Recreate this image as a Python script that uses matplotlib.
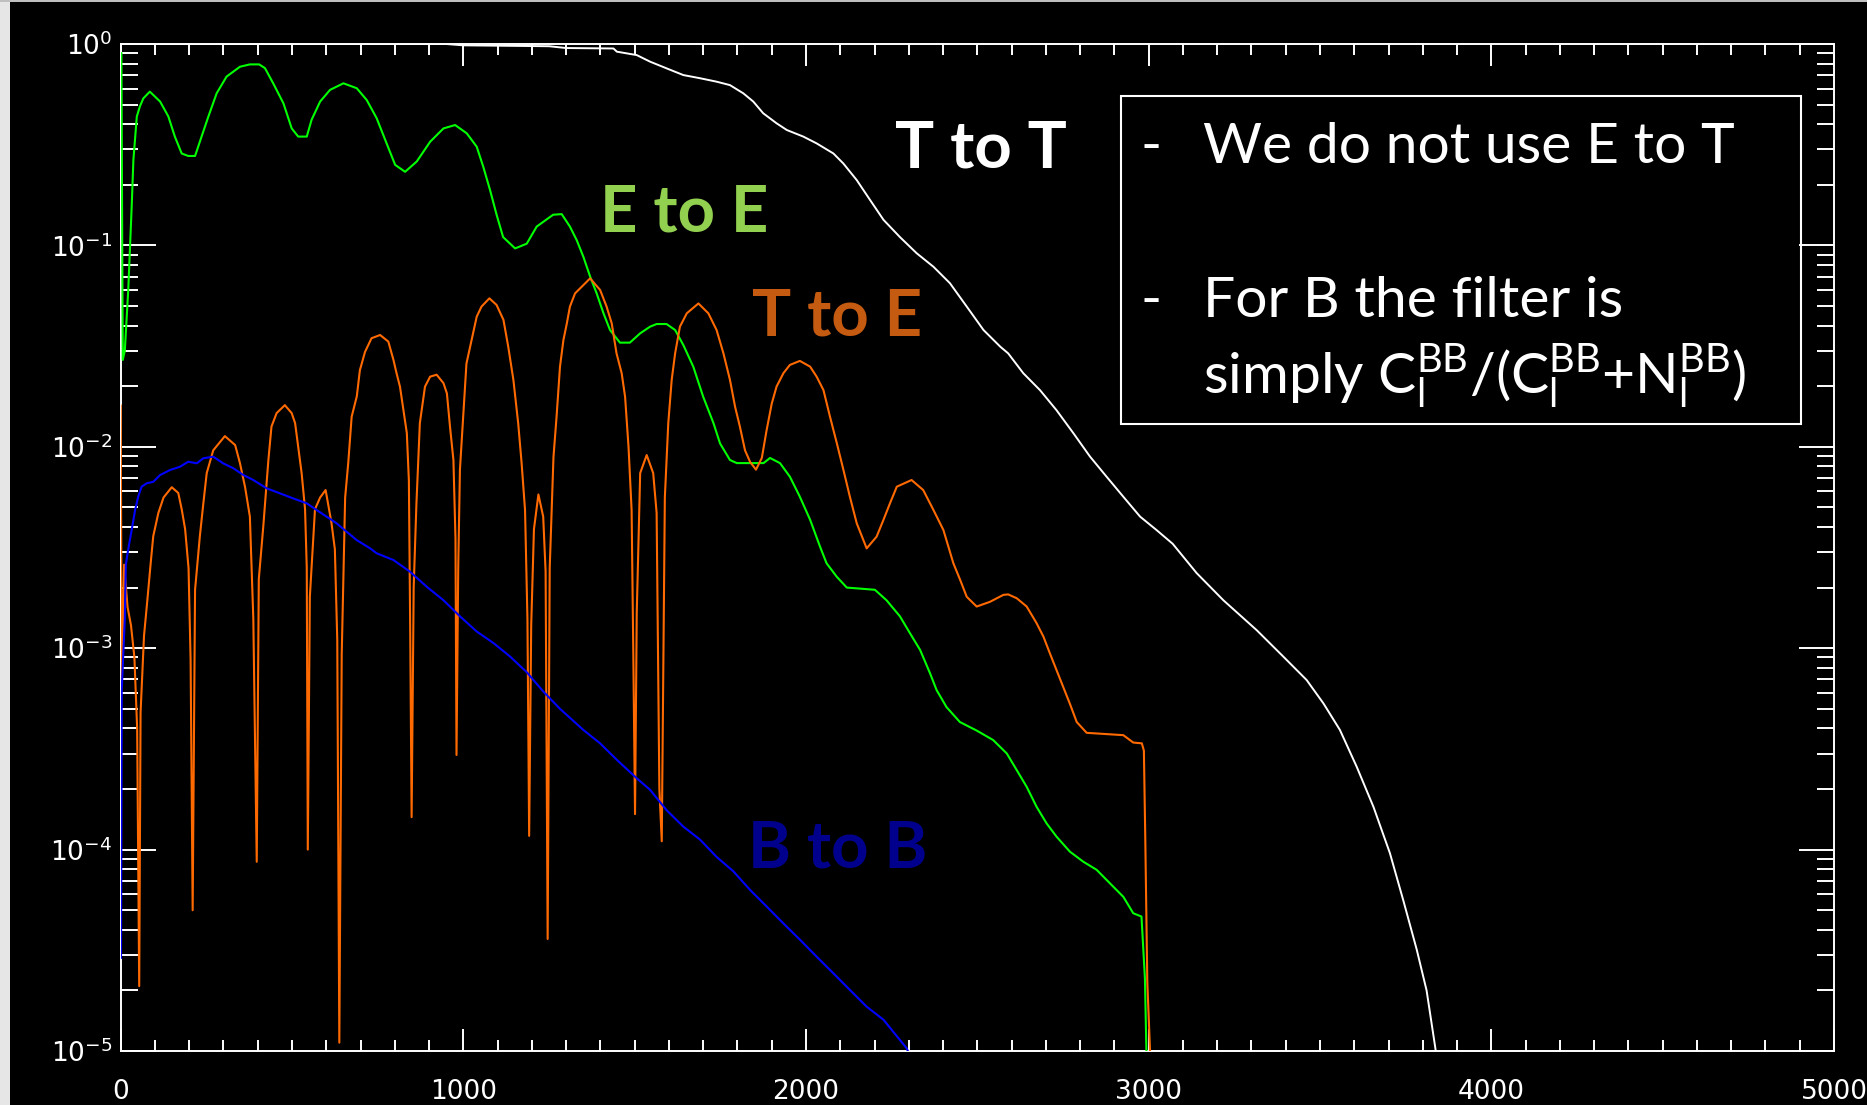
# -*- coding: utf-8 -*-
'''
Wiener filter curves (T to T, E to E, T to E, B to B) on a log scale
'''
import matplotlib
matplotlib.use('Agg')
import matplotlib.pyplot as plt
from matplotlib.patches import Rectangle
from matplotlib.ticker import MultipleLocator, LogLocator, NullFormatter

plt.rcParams['font.family'] = ['DejaVu Sans']
plt.rcParams['mathtext.default'] = 'regular'  # math text in the same font as the text

W, H = 1867, 1105  # output size in pixels

# T to T (white)
ell_tt = [0, 950, 1000, 1250, 1300, 1438, 1448, 1506, 1545, 1593, 1642, 1691, 1739, 1778,
          1817, 1846, 1875, 1914, 1944, 1992, 2031, 2080, 2109, 2148, 2187, 2226, 2274,
          2323, 2372, 2420, 2469, 2518, 2567, 2590, 2634, 2683, 2731, 2780, 2829, 2877,
          2926, 2975, 3023, 3070, 3140, 3218, 3315, 3393, 3461, 3510, 3558, 3607, 3656,
          3704, 3743, 3782, 3811, 3836, 3850]
filt_tt = [1.0, 1.0, 0.985, 0.975, 0.955, 0.95, 0.916, 0.881, 0.817, 0.757, 0.701, 0.676,
           0.65, 0.625, 0.569, 0.518, 0.453, 0.404, 0.374, 0.347, 0.321, 0.286, 0.255,
           0.211, 0.168, 0.134, 0.11, 0.0914, 0.0783, 0.0649, 0.0497, 0.038, 0.0314,
           0.0291, 0.0232, 0.0191, 0.0152, 0.0117, 0.00893, 0.00711, 0.00565, 0.0045,
           0.00386, 0.0033, 0.00236, 0.00173, 0.00123, 0.000908, 0.000695, 0.000532,
           0.000393, 0.000258, 0.000163, 9.6e-5, 5.6e-5, 3.2e-5, 2.0e-5, 1.05e-5, 7e-6]

# E to E (green)
ell_ee = [2, 6, 12, 22, 32, 37, 47, 56, 66, 85, 115, 139, 158, 178, 197, 217, 236, 256, 280,
          309, 348, 377, 404, 421, 445, 475, 499, 518, 543, 557, 582, 611, 650, 689, 718,
          747, 776, 801, 830, 864, 903, 942, 976, 1010, 1039, 1058, 1078, 1097, 1116, 1151,
          1185, 1214, 1262, 1287, 1311, 1331, 1350, 1370, 1389, 1409, 1428, 1457, 1486,
          1516, 1545, 1564, 1593, 1618, 1642, 1671, 1700, 1730, 1749, 1778, 1798, 1876,
          1895, 1924, 1953, 1982, 2012, 2041, 2060, 2090, 2119, 2201, 2235, 2274, 2303,
          2333, 2362, 2381, 2410, 2449, 2498, 2546, 2586, 2615, 2644, 2673, 2702, 2731,
          2770, 2809, 2848, 2887, 2926, 2955, 2979, 2989, 2997]
filt_ee = [0.9, 0.027, 0.03, 0.06, 0.155, 0.265, 0.436, 0.49, 0.537, 0.58, 0.518, 0.437,
           0.347, 0.286, 0.278, 0.278, 0.347, 0.437, 0.569, 0.689, 0.771, 0.792, 0.792,
           0.759, 0.638, 0.507, 0.381, 0.347, 0.347, 0.42, 0.518, 0.592, 0.638, 0.603,
           0.527, 0.428, 0.321, 0.251, 0.232, 0.261, 0.327, 0.381, 0.396, 0.36, 0.309,
           0.246, 0.188, 0.142, 0.11, 0.0966, 0.102, 0.124, 0.142, 0.143, 0.124, 0.106,
           0.088, 0.07, 0.0578, 0.046, 0.038, 0.0329, 0.0329, 0.0366, 0.0395, 0.0407,
           0.0407, 0.038, 0.032, 0.025, 0.0177, 0.0131, 0.0104, 0.0086, 0.0083, 0.0083,
           0.0088, 0.0083, 0.0071, 0.00565, 0.00434, 0.00319, 0.00264, 0.00226, 0.002,
           0.00195, 0.00173, 0.00144, 0.00119, 0.00098, 0.00075, 0.00062, 0.00051,
           0.00043, 0.00039, 0.00035, 0.0003, 0.000248, 0.000205, 0.000163, 0.000135,
           0.000116, 9.77e-5, 8.71e-5, 7.94e-5, 6.8e-5, 5.83e-5, 4.83e-5, 4.65e-5, 2.3e-5,
           5e-6]

# T to E (orange)
ell_te = [0, 3, 10, 20, 30, 40, 48, 54, 58, 68, 78, 88, 95, 110, 125, 149, 168, 178, 188,
          198, 204, 210, 217, 231, 241, 251, 270, 304, 334, 348, 363, 377, 387, 397, 403,
          416, 431, 440, 455, 479, 499, 509, 518, 528, 538, 543, 546, 552, 567, 582, 598,
          615, 625, 632, 638, 645, 655, 664, 674, 689, 698, 713, 732, 757, 781, 796, 805,
          815, 825, 835, 841, 845, 849, 855, 863, 873, 888, 903, 922, 942, 952, 961, 971,
          977, 980, 985, 990, 1000, 1009, 1024, 1039, 1053, 1076, 1097, 1117, 1131, 1146,
          1160, 1170, 1180, 1187, 1192, 1198, 1206, 1219, 1233, 1240, 1246, 1252, 1263,
          1272, 1282, 1292, 1302, 1311, 1326, 1370, 1399, 1418, 1433, 1447, 1462, 1472,
          1482, 1491, 1496, 1501, 1506, 1516, 1535, 1554, 1564, 1572, 1579, 1588, 1598,
          1608, 1618, 1632, 1652, 1686, 1715, 1739, 1759, 1778, 1793, 1807, 1822, 1837,
          1854, 1871, 1885, 1900, 1914, 1934, 1953, 1982, 2012, 2031, 2051, 2070, 2090,
          2109, 2128, 2148, 2177, 2206, 2226, 2245, 2265, 2308, 2342, 2372, 2401, 2430,
          2450, 2469, 2498, 2537, 2576, 2590, 2615, 2644, 2673, 2693, 2712, 2731, 2751,
          2770, 2790, 2819, 2926, 2955, 2980, 2986, 2990, 2996, 3004, 3016]
filt_te = [0.016, 6.5e-4, 2.6e-3, 1.6e-3, 1.3e-3, 9e-4, 4e-4, 2.1e-5, 4.8e-4, 1.15e-3,
           1.75e-3, 2.7e-3, 3.6e-3, 4.7e-3, 5.6e-3, 6.3e-3, 5.9e-3, 4.9e-3, 3.9e-3, 2.5e-3,
           8.7e-4, 5e-5, 1.95e-3, 3.6e-3, 5.2e-3, 7.4e-3, 9.6e-3, 0.0113, 0.0102, 8.3e-3,
           6.3e-3, 4.5e-3, 1.4e-3, 8.7e-5, 2.2e-3, 4.0e-3, 8.6e-3, 0.0126, 0.0147, 0.0161,
           0.0147, 0.0131, 0.01, 7.4e-3, 4.9e-3, 2.5e-3, 1.0e-4, 1.8e-3, 4.9e-3, 5.6e-3,
           6.1e-3, 4.2e-3, 3.1e-3, 1.1e-3, 1.1e-5, 9.3e-4, 5.6e-3, 8.3e-3, 0.0141, 0.0178,
           0.024, 0.0296, 0.0346, 0.0359, 0.0333, 0.027, 0.0232, 0.0199, 0.0152, 0.0117,
           6.8e-3, 1.15e-3, 1.45e-4, 2e-3, 5.2e-3, 0.0131, 0.0199, 0.0223, 0.0228, 0.0207,
           0.0184, 0.0126, 8.6e-3, 3.5e-3, 2.95e-4, 2.5e-3, 7.7e-3, 0.0147, 0.0259, 0.0339,
           0.0443, 0.0497, 0.0546, 0.0506, 0.0427, 0.0314, 0.0215, 0.0131, 8.3e-3, 4.85e-3,
           1.4e-3, 1.17e-4, 1.3e-3, 3.9e-3, 5.8e-3, 4.5e-3, 2.4e-3, 3.6e-5, 2.5e-3, 8.9e-3,
           0.0141, 0.025, 0.0339, 0.041, 0.0497, 0.0578, 0.0686, 0.0601, 0.0497, 0.041,
           0.0291, 0.0232, 0.0177, 0.01, 4.85e-3, 9.3e-4, 1.5e-4, 1.5e-3, 7.4e-3, 9.1e-3,
           7.4e-3, 4.7e-3, 2e-4, 1.1e-4, 5.6e-3, 0.0131, 0.0215, 0.0291, 0.0395, 0.046,
           0.0515, 0.046, 0.038, 0.0291, 0.0215, 0.0158, 0.0126, 9.6e-3, 8.4e-3, 7.7e-3,
           8.8e-3, 0.0121, 0.0164, 0.0199, 0.0232, 0.0255, 0.0267, 0.025, 0.0223, 0.0191,
           0.0141, 0.0104, 7.7e-3, 5.65e-3, 4.17e-3, 3.13e-3, 3.58e-3, 4.34e-3, 5.24e-3,
           6.34e-3, 6.84e-3, 6.1e-3, 4.85e-3, 3.86e-3, 2.64e-3, 2.18e-3, 1.8e-3, 1.61e-3,
           1.7e-3, 1.84e-3, 1.85e-3, 1.77e-3, 1.61e-3, 1.33e-3, 1.14e-3, 9.4e-4, 7.8e-4,
           6.4e-4, 5.3e-4, 4.3e-4, 3.8e-4, 3.7e-4, 3.4e-4, 3.37e-4, 3.1e-4, 1.16e-4,
           2.2e-5, 1.0e-5, 5e-6]

# B to B (blue)
ell_bb = [1, 3, 12, 15, 22, 32, 42, 51, 61, 76, 95, 115, 144, 173, 197, 222, 241, 270, 299,
          329, 358, 387, 426, 465, 504, 543, 572, 601, 630, 659, 689, 728, 747, 796, 844,
          893, 942, 990, 1039, 1088, 1136, 1185, 1233, 1282, 1350, 1399, 1448, 1506, 1545,
          1593, 1642, 1691, 1739, 1788, 1837, 1886, 1934, 1983, 2031, 2080, 2128, 2177,
          2226, 2294, 2320]
filt_bb = [2.9e-5, 6.2e-4, 1.4e-3, 2.6e-3, 3.1e-3, 3.86e-3, 4.85e-3, 5.65e-3, 6.34e-3,
           6.59e-3, 6.7e-3, 7.24e-3, 7.67e-3, 7.96e-3, 8.43e-3, 8.28e-3, 8.77e-3, 8.93e-3,
           8.28e-3, 7.82e-3, 7.24e-3, 6.84e-3, 6.22e-3, 5.87e-3, 5.54e-3, 5.24e-3, 4.85e-3,
           4.5e-3, 4.17e-3, 3.79e-3, 3.44e-3, 3.13e-3, 2.96e-3, 2.74e-3, 2.4e-3, 2.02e-3,
           1.73e-3, 1.44e-3, 1.21e-3, 1.06e-3, 9.1e-4, 7.6e-4, 6.1e-4, 5.0e-4, 3.93e-4,
           3.37e-4, 2.79e-4, 2.26e-4, 1.98e-4, 1.57e-4, 1.3e-4, 1.12e-4, 9.2e-5, 7.8e-5,
           6.3e-5, 5.2e-5, 4.3e-5, 3.56e-5, 2.94e-5, 2.43e-5, 2.01e-5, 1.66e-5, 1.43e-5,
           1.03e-5, 8e-6]

x_ticks = [0, 1000, 2000, 3000, 4000, 5000]


def fx(px):
    return px / W


def fy(py):
    return 1 - py / H


fig = plt.figure(figsize=(W / 100, H / 100), dpi=100, facecolor='black')
ax = fig.add_axes([fx(120.7), fy(1051), (1834 - 120.7) / W, (1051 - 44) / H])
ax.set_facecolor('black')

ax.plot(ell_tt, filt_tt, color='white', lw=1.4, zorder=3)
ax.plot(ell_ee, filt_ee, color='#00ff00', lw=1.5, zorder=3)
ax.plot(ell_te, filt_te, color='#ff6a00', lw=1.5, zorder=3)
ax.plot(ell_bb, filt_bb, color='#0000ff', lw=1.5, zorder=3)

ax.set_yscale('log')
ax.set_ylim(1e-5, 1)
ax.set_xlim(0, 5000)
ax.set_xticks(x_ticks)
ax.xaxis.set_minor_locator(MultipleLocator(100))
ax.yaxis.set_minor_locator(LogLocator(base=10, subs=range(2, 10), numticks=20))
ax.yaxis.set_minor_formatter(NullFormatter())

for s in ax.spines.values():
    s.set_color('white')
    s.set_linewidth(1.4)
ax.tick_params(axis='both', which='both', direction='in', colors='white', width=1.4,
               top=True, right=True, labelsize=19)
ax.tick_params(axis='y', which='major', length=25, pad=6)
ax.tick_params(axis='y', which='minor', length=12)
ax.tick_params(axis='x', which='major', length=16, pad=20)
ax.tick_params(axis='x', which='minor', length=8)

# curve names
fig.text(fx(895), fy(168), 'T to T', family='Lato', weight='bold', size=47,
         color='white', ha='left', va='baseline')
fig.text(fx(600), fy(232), 'E to E', family='Lato', weight='bold', size=47,
         color='#92D050', ha='left', va='baseline')
fig.text(fx(752), fy(335), 'T to E', family='Lato', weight='bold', size=47,
         color='#C55A11', ha='left', va='baseline')
fig.text(fx(748), fy(867), 'B to B', family='Lato', weight='bold', size=47,
         color='#00008C', ha='left', va='baseline')

# note box
fig.add_artist(Rectangle((fx(1121), fy(424)), (1801 - 1121) / W, (424 - 96) / H,
                         transform=fig.transFigure, fill=False, ec='white', lw=1.5))
note_kw = dict(family='Lato', size=41, color='white', ha='left', va='baseline')
fig.text(fx(1140), fy(163), '-', **note_kw)
fig.text(fx(1203), fy(163), 'We do not use E to T', **note_kw)
fig.text(fx(1140), fy(317), '-', **note_kw)
fig.text(fx(1203), fy(317), 'For B the filter is', **note_kw)
fig.text(fx(1203), fy(393), r'simply C$_l^{BB}$/(C$_l^{BB}$+N$_l^{BB}$)', **note_kw)

# light edge of the screenshot
fig.add_artist(Rectangle((0, 0), fx(10), 1, transform=fig.transFigure,
                         color='#e6e6e6', lw=0))
fig.add_artist(Rectangle((0, fy(2)), 1, 2 / H, transform=fig.transFigure,
                         color='#bfbfbf', lw=0))

plt.savefig('out.png', dpi=100, facecolor='black')
plt.close()
